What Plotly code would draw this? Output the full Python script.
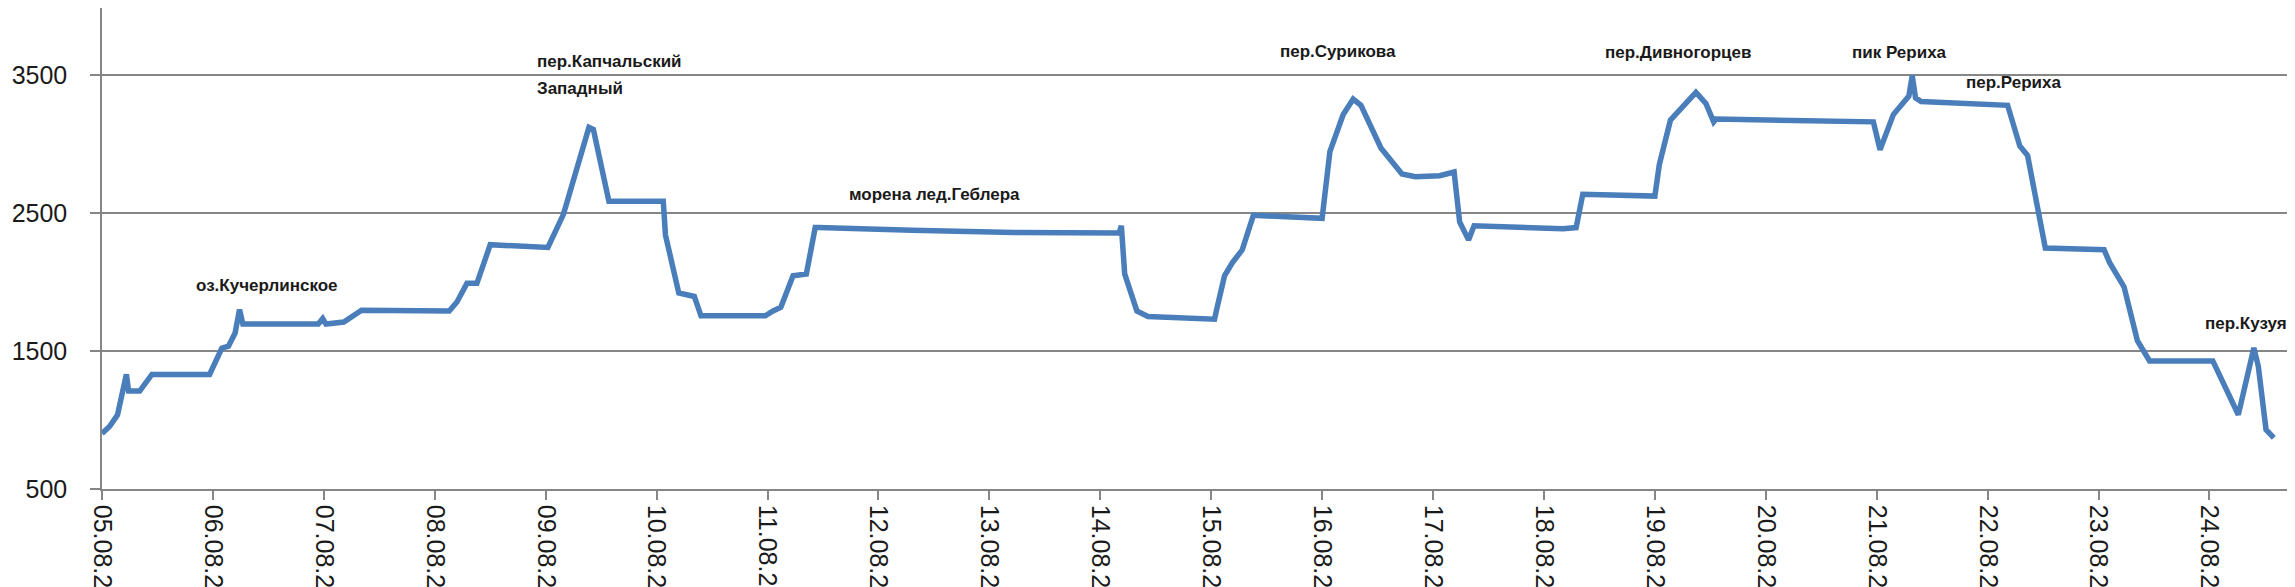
import pandas as pd
import plotly.graph_objects as go

# day offsets from 05.08 00:00 and altitude (m)
days = [0.0, 0.07, 0.14, 0.18, 0.22, 0.24, 0.34, 0.45, 0.97, 1.08, 1.14, 1.2, 1.24, 1.27,
        1.95, 1.99, 2.02, 2.18, 2.34, 3.13, 3.2, 3.29, 3.38, 3.5, 4.02, 4.16, 4.39, 4.43,
        4.57, 5.06, 5.08, 5.2, 5.34, 5.4, 5.98, 6.05, 6.12, 6.23, 6.35, 6.43, 6.46,
        7.3, 8.22, 9.17, 9.19, 9.22, 9.33, 9.43, 10.03, 10.05, 10.12, 10.19, 10.28, 10.38,
        11.0, 11.07, 11.19, 11.28, 11.35, 11.53, 11.72, 11.84, 12.06, 12.19, 12.24, 12.32,
        12.37, 13.17, 13.29, 13.35, 14.0, 14.04, 14.14, 14.37, 14.46, 14.53, 14.55, 15.97,
        16.03, 16.15, 16.29, 16.32, 16.35, 16.4, 17.18, 17.29, 17.36, 17.52, 18.05, 18.1,
        18.23, 18.35, 18.46, 19.03, 19.12, 19.26, 19.4, 19.44, 19.51, 19.58]
alt = [903, 955, 1037, 1170, 1330, 1210, 1210, 1330, 1330, 1520, 1535, 1630, 1800, 1695,
       1695, 1735, 1695, 1710, 1795, 1790, 1855, 1990, 1990, 2270, 2250, 2490, 3120, 3105,
       2585, 2585, 2340, 1920, 1895, 1755, 1755, 1790, 1817, 2045, 2058, 2394, 2394,
       2375, 2359, 2354, 2407, 2058, 1790, 1750, 1730, 1803, 2045, 2139, 2233, 2483,
       2461, 2944, 3213, 3325, 3280, 2971, 2783, 2762, 2770, 2797, 2434, 2305,
       2407, 2386, 2394, 2636, 2622, 2850, 3172, 3374, 3293, 3160, 3180, 3160,
       2958, 3213, 3347, 3495, 3334, 3307, 3280, 2985, 2917, 2246, 2233, 2140,
       1964, 1575, 1428, 1428, 1280, 1038, 1522, 1390, 930, 870]

labels = ["оз.Кучерлинское", "пер.Капчальский", "Западный", "морена лед.Геблера",
          "пер.Сурикова", "пер.Дивногорцев", "пик Рериха", "пер.Рериха", "пер.Кузуяк"]
label_days = [0.83, 3.9, 3.9, 6.72, 10.6, 13.53, 15.76, 16.79, 18.94]
label_alt = [1972, 3594, 3400, 2636, 3669, 3661, 3661, 3446, 1696]

base = pd.Timestamp("2011-08-05")
x = [base + pd.Timedelta(days=d) for d in days]
lx = [base + pd.Timedelta(days=d) for d in label_days]

fig = go.Figure()
fig.add_trace(go.Scatter(x=x, y=alt, mode="lines",
                         line=dict(color="#4a7ebb", width=5.5), hoverinfo="skip"))
for t, xx, yy in zip(labels, lx, label_alt):
    fig.add_annotation(x=xx, y=yy, text="<b>" + t + "</b>", showarrow=False,
                       xanchor="left", yanchor="middle",
                       font=dict(family="Liberation Sans", size=17, color="#1a1a1a"),
                       xref="x", yref="y")

fig.update_layout(
    width=2295, height=587, margin=dict(l=94, r=7, t=0, b=106),
    plot_bgcolor="white", paper_bgcolor="white", showlegend=False,
    font=dict(family="Liberation Sans", color="#1a1a1a"),
)
fig.update_xaxes(type="date", range=[base, base + pd.Timedelta(days=19.78)],
                 tick0=base, dtick=86400000, tickformat="%d.%m.%Y", tickangle=90,
                 ticks="outside", ticklen=9, tickcolor="#868686", tickwidth=1.5,
                 showline=True, linecolor="#868686", linewidth=1.5,
                 showgrid=False, zeroline=False, automargin=False,
                 tickfont=dict(size=25, family="Liberation Sans"))
fig.update_yaxes(range=[500, 3985], tickvals=[500, 1500, 2500, 3500],
                 ticks="outside", ticklen=10, tickcolor="#868686", tickwidth=1.5,
                 showline=True, linecolor="#868686", linewidth=1.5,
                 showgrid=True, gridcolor="#868686", gridwidth=1.5, zeroline=False,
                 automargin=False, ticklabelstandoff=18,
                 tickfont=dict(size=25, family="Liberation Sans"))
fig.write_html("out.html")
